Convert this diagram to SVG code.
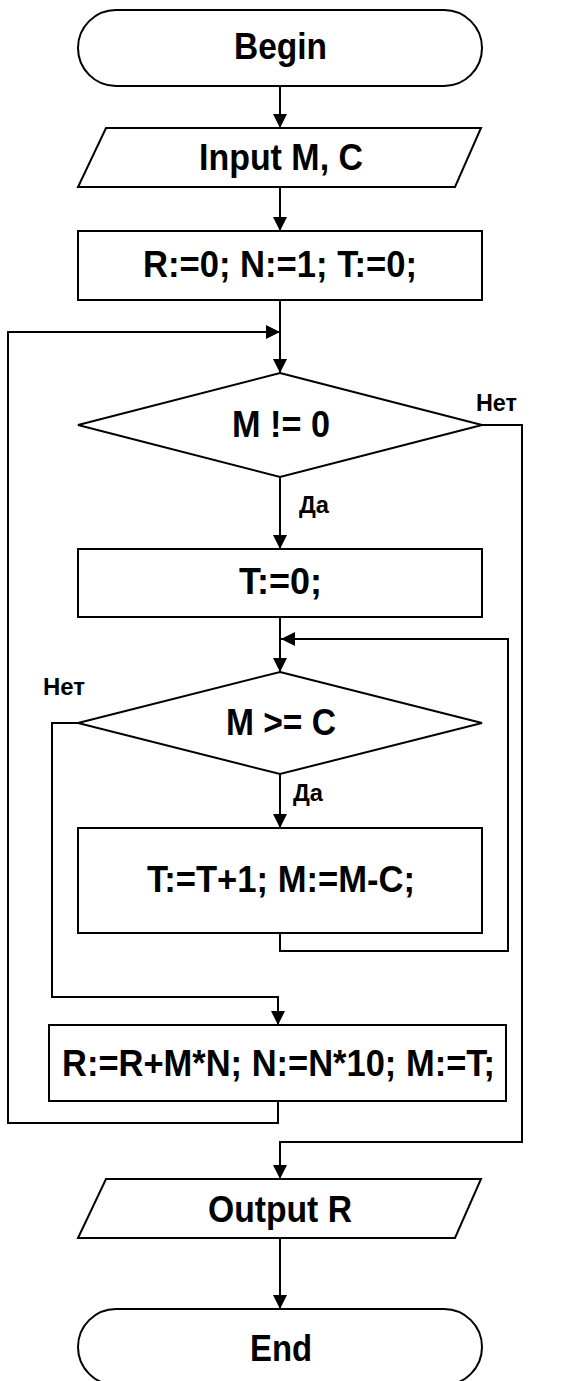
<svg xmlns="http://www.w3.org/2000/svg" width="566" height="1381" viewBox="0 0 566 1381">
<style>
.s{fill:#fff;stroke:#000;stroke-width:2}
.c{fill:none;stroke:#000;stroke-width:2}
.t{font-family:"Liberation Sans",Arial,sans-serif;font-weight:bold;font-size:36.5px;text-anchor:middle;fill:#000}
.l{font-family:"Liberation Sans",Arial,sans-serif;font-weight:bold;font-size:23.5px;fill:#000}
</style>
<defs>
<marker id="a" markerWidth="14" markerHeight="14" refX="14" refY="7" orient="auto" markerUnits="userSpaceOnUse">
<path d="M0,0 L14,7 L0,14 Z" fill="#000"/>
</marker>
</defs>
<rect width="566" height="1381" fill="#fff"/>
<g id="connectors">
<path class="c" d="M280,86 V128" marker-end="url(#a)"/>
<path class="c" d="M280,187 V231" marker-end="url(#a)"/>
<path class="c" d="M280,300 V373" marker-end="url(#a)"/>
<path class="c" d="M280,477 V549" marker-end="url(#a)"/>
<path class="c" d="M280,617 V672" marker-end="url(#a)"/>
<path class="c" d="M280,774 V828" marker-end="url(#a)"/>
<path class="c" d="M280,933 V951 H508 V639 H281" marker-end="url(#a)"/>
<path class="c" d="M78,723 H52 V997 H278 V1025" marker-end="url(#a)"/>
<path class="c" d="M278,1101 V1123 H8 V332 H280" marker-end="url(#a)"/>
<path class="c" d="M482,425 H522 V1142 H280 V1179" marker-end="url(#a)"/>
<path class="c" d="M280,1238 V1309" marker-end="url(#a)"/>
<text class="l" x="476" y="411" textLength="41" lengthAdjust="spacingAndGlyphs">Нет</text>
<text class="l" x="299" y="513" textLength="30" lengthAdjust="spacingAndGlyphs">Да</text>
<text class="l" x="43" y="695" textLength="42" lengthAdjust="spacingAndGlyphs">Нет</text>
<text class="l" x="293" y="801" textLength="30" lengthAdjust="spacingAndGlyphs">Да</text>
</g>
<g id="begin">
<rect class="s" x="78" y="10" width="404" height="76" rx="38"/>
<text class="t" x="280.5" y="59" textLength="93" lengthAdjust="spacingAndGlyphs">Begin</text>
</g>
<g id="input">
<polygon class="s" points="106,128 481,128 455,187 78,187"/>
<text class="t" x="281" y="170" textLength="164" lengthAdjust="spacingAndGlyphs">Input M, C</text>
</g>
<g id="init">
<rect class="s" x="78" y="231" width="404" height="69"/>
<text class="t" x="280" y="277" textLength="274" lengthAdjust="spacingAndGlyphs">R:=0; N:=1; T:=0;</text>
</g>
<g id="cond1">
<polygon class="s" points="280,373 482,425 280,477 78,425"/>
<text class="t" x="281" y="437" textLength="98" lengthAdjust="spacingAndGlyphs">M != 0</text>
</g>
<g id="tzero">
<rect class="s" x="78" y="549" width="404" height="68"/>
<text class="t" x="280.5" y="594" textLength="83" lengthAdjust="spacingAndGlyphs">T:=0;</text>
</g>
<g id="cond2">
<polygon class="s" points="280,672 482,723 280,774 78,723"/>
<text class="t" x="281" y="735" textLength="110" lengthAdjust="spacingAndGlyphs">M &gt;= C</text>
</g>
<g id="body">
<rect class="s" x="78" y="828" width="404" height="105"/>
<text class="t" x="281" y="892" textLength="268" lengthAdjust="spacingAndGlyphs">T:=T+1; M:=M-C;</text>
</g>
<g id="update">
<rect class="s" x="49" y="1025" width="457" height="76"/>
<text class="t" x="278.5" y="1076" textLength="433" lengthAdjust="spacingAndGlyphs">R:=R+M*N; N:=N*10; M:=T;</text>
</g>
<g id="output">
<polygon class="s" points="106,1179 481,1179 455,1238 78,1238"/>
<text class="t" x="280" y="1222" textLength="144" lengthAdjust="spacingAndGlyphs">Output R</text>
</g>
<g id="end">
<rect class="s" x="78" y="1309" width="404" height="76" rx="38"/>
<text class="t" x="281" y="1361" textLength="62" lengthAdjust="spacingAndGlyphs">End</text>
</g>
</svg>
